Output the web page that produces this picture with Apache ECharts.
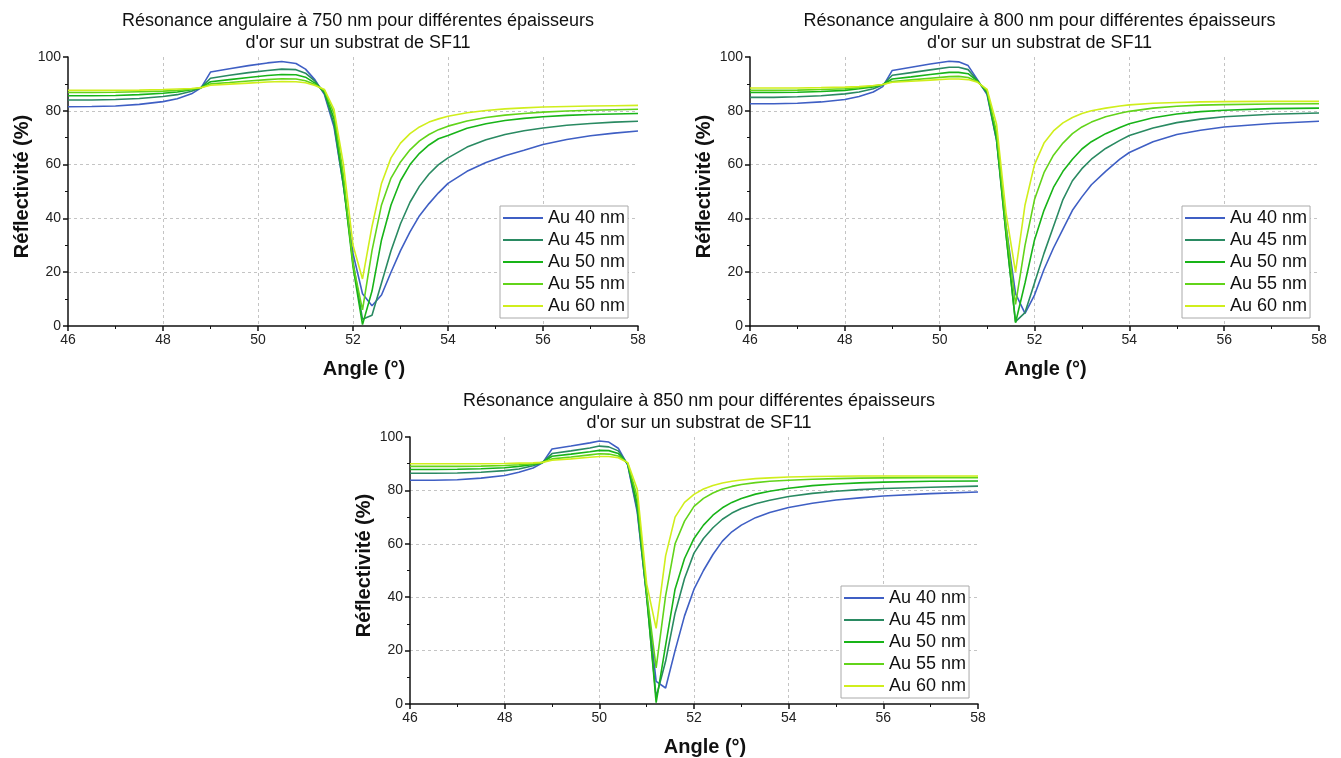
<!DOCTYPE html>
<html>
<head>
<meta charset="utf-8">
<script src="https://cdn.jsdelivr.net/npm/echarts@6/dist/echarts.min.js"></script>
<style>
  html, body { margin: 0; padding: 0; background: #fff; }
  #chart { width: 1341px; height: 758px; }
</style>
</head>
<body>
<div id="chart"></div>
<script>
// épaisseurs d'or
const names = ["Au 40 nm", "Au 45 nm", "Au 50 nm", "Au 55 nm", "Au 60 nm"];
const colors = ["#3f5fc4", "#2a8a62", "#18b418", "#62d41a", "#d0ee1c"];

// 750 nm
const ang750 = [46, 46.5, 47, 47.5, 48, 48.3, 48.6, 48.8, 49, 49.4, 49.8, 50.2, 50.5, 50.8, 51, 51.2, 51.4, 51.6, 51.8, 52, 52.2, 52.4, 52.6, 52.8, 53, 53.2, 53.4, 53.6, 53.8, 54, 54.4, 54.8, 55.2, 55.6, 56, 56.5, 57, 57.5, 58];
const r750_40 = [81.5, 81.6, 81.8, 82.4, 83.4, 84.5, 86.3, 88.5, 94.4, 95.6, 96.8, 97.8, 98.3, 97.6, 95.5, 91.5, 86, 74, 52, 27, 12, 7.5, 11.5, 20, 28, 35, 41, 45.5, 49.5, 53, 57.5, 60.8, 63.3, 65.3, 67.5, 69.3, 70.7, 71.7, 72.5];
const r750_45 = [84, 84, 84.2, 84.6, 85.3, 86, 87.3, 88.6, 92.1, 93.2, 94.2, 95, 95.5, 95.3, 94, 91, 86.5, 75, 52, 24, 2.5, 4, 16, 28, 38, 46, 52, 56.5, 60, 62.5, 66.5, 69.2, 71.2, 72.6, 73.6, 74.6, 75.3, 75.8, 76.1];
const r750_50 = [85.6, 85.6, 85.7, 86, 86.5, 87, 87.8, 88.6, 90.8, 91.6, 92.4, 93.1, 93.5, 93.4, 92.5, 90.3, 87, 77, 53, 22, 0.5, 13, 32, 45, 54, 60, 64.2, 67.3, 69.6, 70.8, 73.5, 75.2, 76.4, 77.2, 77.8, 78.3, 78.6, 78.8, 79];
const r750_55 = [86.8, 86.8, 86.9, 87.1, 87.3, 87.6, 88, 88.6, 90, 90.5, 91.1, 91.6, 91.9, 91.8, 91.2, 89.8, 87.5, 79, 56, 23, 6, 28, 45, 55, 61, 65.5, 68.8, 71.2, 73, 74.3, 76.2, 77.5, 78.4, 79, 79.5, 79.9, 80.2, 80.4, 80.6];
const r750_60 = [87.6, 87.6, 87.6, 87.7, 87.9, 88.1, 88.3, 88.6, 89.5, 89.9, 90.3, 90.7, 90.9, 90.8, 90.4, 89.4, 87.9, 80.5, 60, 30, 17.5, 37, 53, 62.5, 68, 71.5, 74, 75.8, 77, 78, 79.3, 80.1, 80.7, 81.1, 81.4, 81.6, 81.8, 81.9, 82];

// 800 nm
const ang800 = [46, 46.5, 47, 47.5, 48, 48.3, 48.6, 48.8, 49, 49.4, 49.8, 50.2, 50.4, 50.6, 50.8, 51, 51.2, 51.4, 51.6, 51.8, 52, 52.2, 52.4, 52.6, 52.8, 53, 53.2, 53.5, 53.8, 54, 54.5, 55, 55.5, 56, 57, 58];
const r800_40 = [82.6, 82.6, 82.8, 83.3, 84.2, 85.3, 87, 89, 95, 96.2, 97.4, 98.4, 98.2, 96.8, 91.5, 86, 69, 37, 12, 4.7, 11.5, 21, 29, 36, 43, 48, 52.5, 57.5, 62, 64.5, 68.5, 71.2, 72.8, 74, 75.3, 76.1];
const r800_45 = [85, 85, 85.2, 85.6, 86.3, 87, 88.2, 89.6, 93.2, 94.2, 95.2, 96.2, 96.2, 95.3, 91.2, 86.5, 69, 34, 1.6, 5, 16, 27, 37, 47, 54, 58.5, 62, 66, 69, 70.8, 73.6, 75.6, 76.9, 77.8, 78.7, 79.2];
const r800_50 = [86.8, 86.8, 86.9, 87.2, 87.6, 88.2, 88.9, 89.8, 91.8, 92.6, 93.5, 94.3, 94.3, 93.8, 91, 87, 70, 34, 1.2, 16, 32, 43, 51.5, 57.5, 62, 65.8, 68.5, 71.5, 73.8, 75.2, 77.4, 78.8, 79.7, 80.2, 80.8, 81];
const r800_55 = [87.6, 87.6, 87.7, 87.9, 88.2, 88.6, 89.2, 89.8, 90.9, 91.5, 92.1, 92.7, 92.8, 92.4, 90.8, 87.5, 72, 37, 8, 30, 47, 57, 63.5, 68, 71.5, 74, 75.8, 77.8, 79.1, 79.8, 81, 81.7, 82.1, 82.3, 82.5, 82.6];
const r800_60 = [88.5, 88.5, 88.5, 88.6, 88.8, 89, 89.4, 89.8, 90.6, 91, 91.4, 91.8, 91.8, 91.6, 90.6, 88, 75, 42, 20, 45, 60, 68, 72.5, 75.5, 77.5, 79, 80, 81, 81.8, 82.2, 82.8, 83.1, 83.3, 83.4, 83.5, 83.5];

// 850 nm
const ang850 = [46, 46.5, 47, 47.5, 48, 48.3, 48.6, 48.8, 49, 49.4, 49.8, 50, 50.2, 50.4, 50.6, 50.8, 51, 51.2, 51.4, 51.6, 51.8, 52, 52.2, 52.4, 52.6, 52.8, 53, 53.3, 53.6, 54, 54.5, 55, 55.5, 56, 57, 58];
const r850_40 = [83.8, 83.8, 84, 84.6, 85.6, 86.8, 88.4, 90.3, 95.5, 96.6, 97.8, 98.5, 98.1, 95.8, 89.5, 72, 40.5, 8.5, 6, 20, 33, 43, 50, 56, 61, 64.5, 67, 69.8, 71.7, 73.6, 75.2, 76.4, 77.2, 77.9, 78.8, 79.4];
const r850_45 = [86.4, 86.4, 86.5, 86.8, 87.4, 88, 89.2, 90.4, 93.8, 94.8, 95.9, 96.6, 96.3, 94.8, 89.8, 73, 40, 2.5, 16, 34, 47, 56.5, 62, 66, 69.2, 71.5, 73.2, 75, 76.3, 77.7, 78.9, 79.7, 80.3, 80.7, 81.2, 81.6];
const r850_50 = [87.8, 87.8, 87.9, 88.1, 88.5, 89, 89.7, 90.5, 92.8, 93.6, 94.5, 95, 94.9, 93.8, 90, 75, 41, 0.5, 22, 43, 54.5, 62, 67, 70.7, 73.5, 75.5, 77, 78.6, 79.7, 80.8, 81.8, 82.4, 82.8, 83.1, 83.4, 83.5];
const r850_55 = [89, 89, 89, 89.1, 89.3, 89.6, 90, 90.5, 91.8, 92.5, 93.3, 93.7, 93.6, 92.9, 90.2, 77.5, 42, 13.5, 40.5, 60, 68.5, 74, 77, 79, 80.5, 81.5, 82.2, 82.9, 83.4, 83.8, 84.2, 84.4, 84.6, 84.7, 84.8, 84.8];
const r850_60 = [90, 90, 90, 90, 90.1, 90.2, 90.3, 90.5, 91.3, 91.8, 92.4, 92.7, 92.7, 92.2, 90.4, 80.5, 45, 28.3, 55.5, 70, 75.5, 78.5, 80.5, 81.8, 82.8, 83.4, 83.9, 84.4, 84.7, 85, 85.2, 85.3, 85.4, 85.4, 85.4, 85.4];

// axes
const angleMin = 46, angleMax = 58, angleStep = 2;
const reflMin = 0, reflMax = 100, reflStep = 20;

const panels = [
  { lambda: 750, ang: ang750, vals: [r750_40, r750_45, r750_50, r750_55, r750_60],
    grid: { left: 68, top: 57, width: 570, height: 269 }, legend: { left: 500, top: 206 } },
  { lambda: 800, ang: ang800, vals: [r800_40, r800_45, r800_50, r800_55, r800_60],
    grid: { left: 750, top: 57, width: 569, height: 269 }, legend: { left: 1182, top: 206 } },
  { lambda: 850, ang: ang850, vals: [r850_40, r850_45, r850_50, r850_55, r850_60],
    grid: { left: 410, top: 437, width: 568, height: 269 }, legend: { left: 841, top: 586 } }
];

const font = "Liberation Sans, Arial, sans-serif";
const gridLine = { show: true, lineStyle: { type: [3, 3], color: "#c4c4c4", width: 1 } };

const option = {
  animation: false,
  backgroundColor: "#fff",
  textStyle: { fontFamily: font },
  title: panels.map((p) => ({
    text: "Résonance angulaire à " + p.lambda + " nm pour différentes épaisseurs\nd'or sur un substrat de SF11",
    left: p.grid.left + p.grid.width / 2,
    top: p.grid.top - 52,
    textAlign: "center",
    textStyle: { fontFamily: font, fontSize: 18, fontWeight: "normal", color: "#111", lineHeight: 22 }
  })),
  legend: panels.map((p) => ({
    data: names,
    orient: "vertical",
    left: p.legend.left,
    top: p.legend.top,
    icon: "rect",
    itemWidth: 40,
    itemHeight: 2,
    itemGap: 4,
    padding: [3, 3, 3, 3],
    borderColor: "#aaa",
    borderWidth: 1,
    backgroundColor: "#fff",
    selectedMode: false,
    textStyle: { fontFamily: font, fontSize: 18, color: "#111" }
  })),
  grid: panels.map((p) => p.grid),
  xAxis: panels.map((p, i) => ({
    type: "value",
    gridIndex: i,
    min: angleMin, max: angleMax, interval: angleStep,
    name: "Angle (°)",
    nameLocation: "middle",
    nameGap: 33,
    nameTextStyle: { fontFamily: font, fontSize: 20, fontWeight: "bold", color: "#111", padding: [0, 0, 0, 22] },
    axisLine: { show: true, lineStyle: { color: "#111", width: 1.5 } },
    axisTick: { show: true, length: 5, lineStyle: { color: "#111", width: 1.5 } },
    minorTick: { show: true, splitNumber: 2, length: 3, lineStyle: { color: "#111", width: 1 } },
    axisLabel: { fontFamily: font, fontSize: 14, color: "#222", margin: 7 },
    splitLine: Object.assign({ showMinLine: false, showMaxLine: false }, gridLine)
  })),
  yAxis: panels.map((p, i) => ({
    type: "value",
    gridIndex: i,
    min: reflMin, max: reflMax, interval: reflStep,
    name: "Réflectivité (%)",
    nameLocation: "middle",
    nameGap: 36,
    nameTextStyle: { fontFamily: font, fontSize: 20, fontWeight: "bold", color: "#111", padding: [0, 0, 0, 10] },
    axisLine: { show: true, lineStyle: { color: "#111", width: 1.5 } },
    axisTick: { show: true, length: 5, lineStyle: { color: "#111", width: 1.5 } },
    minorTick: { show: true, splitNumber: 2, length: 3, lineStyle: { color: "#111", width: 1 } },
    axisLabel: { fontFamily: font, fontSize: 14, color: "#222", margin: 7 },
    splitLine: Object.assign({ showMinLine: false, showMaxLine: false }, gridLine)
  })),
  series: []
};

panels.forEach((p, i) => {
  p.vals.forEach((v, k) => {
    option.series.push({
      name: names[k],
      type: "line",
      xAxisIndex: i,
      yAxisIndex: i,
      symbol: "none",
      smooth: false,
      color: colors[k],
      lineStyle: { width: 1.6, color: colors[k] },
      data: p.ang.map((a, j) => [a, v[j]])
    });
  });
});

const chart = echarts.init(document.getElementById("chart"));
chart.setOption(option);
</script>
</body>
</html>
